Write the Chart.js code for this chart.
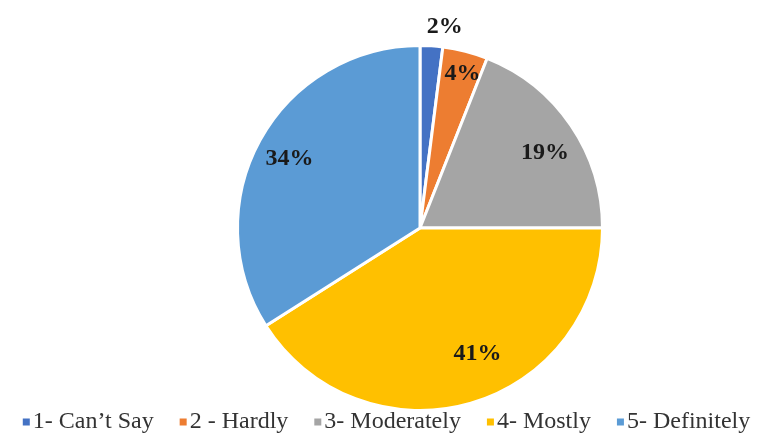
<!DOCTYPE html>
<html>
<head>
<meta charset="utf-8">
<script src="https://cdn.jsdelivr.net/npm/chart.js@4/dist/chart.umd.min.js"></script>
<style>
  html, body { margin: 0; padding: 0; background: #fff; }
  #wrap { width: 773px; height: 436px; }
</style>
</head>
<body>
<div id="wrap"><canvas id="pie-chart"></canvas></div>
<script>
const categories = ["1- Can\u2019t Say", "2 - Hardly", "3- Moderately", "4- Mostly", "5- Definitely"];
const values = [2, 4, 19, 41, 34];
const colors = ["#4472C4", "#ED7D31", "#A5A5A5", "#FFC000", "#5B9BD5"];

// % label placement: distance as fraction of radius, and a small turn (degrees) off the slice middle
const labelRadius = [1.11, 0.875, 0.8, 0.76, 0.81];
const labelTurn = [3.4, 1, 3, -8.3, -0.8];

const serif = '"Liberation Serif", "Times New Roman", serif';

const pctLabels = {
  id: 'pctLabels',
  afterDatasetsDraw(chart) {
    const ctx = chart.ctx;
    const meta = chart.getDatasetMeta(0);
    ctx.save();
    ctx.font = 'bold 24px ' + serif;
    ctx.fillStyle = '#1a1a1a';
    ctx.textAlign = 'center';
    ctx.textBaseline = 'middle';
    meta.data.forEach((arc, i) => {
      const p = arc.getProps(['x', 'y', 'startAngle', 'endAngle', 'outerRadius'], true);
      const mid = (p.startAngle + p.endAngle) / 2 + labelTurn[i] * Math.PI / 180;
      const r = p.outerRadius * labelRadius[i];
      ctx.fillText(values[i] + '%', p.x + Math.cos(mid) * r, p.y + Math.sin(mid) * r);
    });
    ctx.restore();
  }
};

// legend drawn by hand so it can sit tight under the pie like the original
const bottomLegend = {
  id: 'bottomLegend',
  afterDraw(chart) {
    const ctx = chart.ctx;
    const box = 7, textGap = 3, itemGap = 26, y = 422;
    ctx.save();
    ctx.font = '24px ' + serif;
    ctx.textBaseline = 'middle';
    const widths = categories.map(c => ctx.measureText(c).width);
    let total = 0;
    widths.forEach((w, i) => { total += box + textGap + w + (i < widths.length - 1 ? itemGap : 0); });
    let x = (chart.width - total) / 2;
    categories.forEach((c, i) => {
      ctx.fillStyle = colors[i];
      ctx.fillRect(x, y - box / 2, box, box);
      ctx.fillStyle = '#333';
      ctx.fillText(c, x + box + textGap, y);
      x += box + textGap + widths[i] + itemGap;
    });
    ctx.restore();
  }
};

new Chart(document.getElementById("pie-chart"), {
  type: 'pie',
  data: {
    labels: categories,
    datasets: [{
      data: values,
      backgroundColor: colors,
      borderColor: '#fff',
      borderWidth: 3
    }]
  },
  options: {
    responsive: true,
    maintainAspectRatio: false,
    animation: false,
    layout: { padding: { top: 44, left: 67, right: 0, bottom: 24 } },
    plugins: {
      tooltip: { enabled: false },
      legend: { display: false }
    }
  },
  plugins: [pctLabels, bottomLegend]
});
</script>
</body>
</html>
